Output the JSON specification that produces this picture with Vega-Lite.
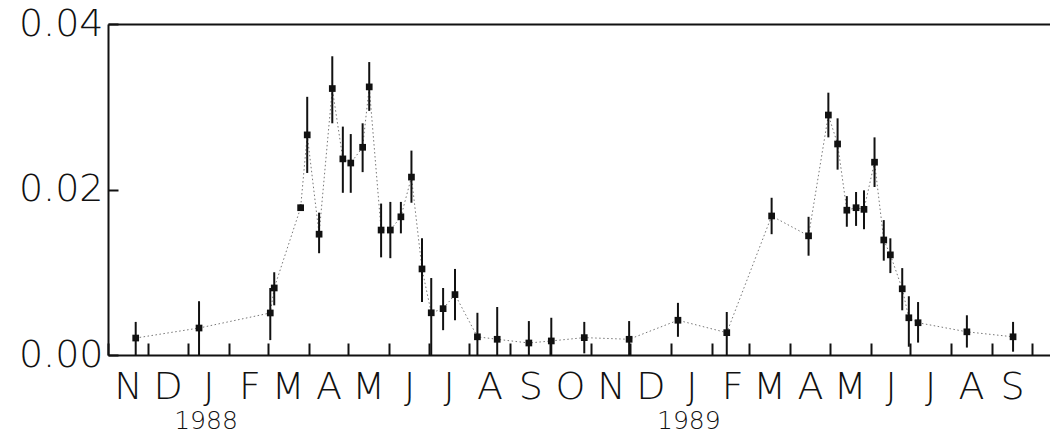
{
  "$schema": "https://vega.github.io/schema/vega-lite/v6.json",
  "width": 942,
  "height": 331,
  "autosize": {"type": "none"},
  "padding": {"left": 108, "top": 24, "right": 0, "bottom": 81},
  "background": "white",
  "config": {"view": {"stroke": null}, "font": "DejaVu Sans"},
  "data": {
    "values": [
      {"date": "1987-11-22", "v": 0.00205, "lo": 0.0, "hi": 0.0040},
      {"date": "1988-01-09", "v": 0.00326, "lo": 0.0, "hi": 0.0065},
      {"date": "1988-03-03", "v": 0.00508, "lo": 0.0018, "hi": 0.0081},
      {"date": "1988-03-06", "v": 0.0081, "lo": 0.0060, "hi": 0.0100},
      {"date": "1988-03-26", "v": 0.0178, "lo": 0.0174, "hi": 0.0182},
      {"date": "1988-03-31", "v": 0.0266, "lo": 0.0220, "hi": 0.0312},
      {"date": "1988-04-09", "v": 0.0146, "lo": 0.0123, "hi": 0.0172},
      {"date": "1988-04-19", "v": 0.0322, "lo": 0.0280, "hi": 0.0361},
      {"date": "1988-04-27", "v": 0.0237, "lo": 0.0196, "hi": 0.0276},
      {"date": "1988-05-03", "v": 0.0232, "lo": 0.0196, "hi": 0.0267},
      {"date": "1988-05-12", "v": 0.0251, "lo": 0.0221, "hi": 0.0280},
      {"date": "1988-05-17", "v": 0.0324, "lo": 0.0295, "hi": 0.0354},
      {"date": "1988-05-26", "v": 0.0151, "lo": 0.0118, "hi": 0.0183},
      {"date": "1988-06-02", "v": 0.0151, "lo": 0.0117, "hi": 0.0185},
      {"date": "1988-06-10", "v": 0.0167, "lo": 0.0147, "hi": 0.0185},
      {"date": "1988-06-18", "v": 0.0215, "lo": 0.0184, "hi": 0.0247},
      {"date": "1988-06-26", "v": 0.0104, "lo": 0.0064, "hi": 0.0141},
      {"date": "1988-07-03", "v": 0.0051, "lo": 0.0, "hi": 0.0093},
      {"date": "1988-07-12", "v": 0.0056, "lo": 0.0030, "hi": 0.0081},
      {"date": "1988-07-21", "v": 0.0073, "lo": 0.0042, "hi": 0.0104},
      {"date": "1988-08-07", "v": 0.0022, "lo": 0.0, "hi": 0.0051},
      {"date": "1988-08-22", "v": 0.0019, "lo": 0.0, "hi": 0.0058},
      {"date": "1988-09-15", "v": 0.00145, "lo": 0.0, "hi": 0.0041},
      {"date": "1988-10-02", "v": 0.0017, "lo": 0.0, "hi": 0.0045},
      {"date": "1988-10-27", "v": 0.0021, "lo": 0.0002, "hi": 0.0040},
      {"date": "1988-11-30", "v": 0.0019, "lo": 0.0, "hi": 0.0041},
      {"date": "1989-01-06", "v": 0.0042, "lo": 0.0022, "hi": 0.0063},
      {"date": "1989-02-12", "v": 0.0027, "lo": 0.0, "hi": 0.0052},
      {"date": "1989-03-18", "v": 0.0168, "lo": 0.0146, "hi": 0.0190},
      {"date": "1989-04-15", "v": 0.0144, "lo": 0.0120, "hi": 0.0167},
      {"date": "1989-04-30", "v": 0.0290, "lo": 0.0263, "hi": 0.0317},
      {"date": "1989-05-07", "v": 0.0255, "lo": 0.0224, "hi": 0.0286},
      {"date": "1989-05-14", "v": 0.0175, "lo": 0.0155, "hi": 0.0192},
      {"date": "1989-05-21", "v": 0.0178, "lo": 0.0156, "hi": 0.0197},
      {"date": "1989-05-27", "v": 0.0176, "lo": 0.0152, "hi": 0.0199},
      {"date": "1989-06-04", "v": 0.0233, "lo": 0.0203, "hi": 0.0263},
      {"date": "1989-06-11", "v": 0.0139, "lo": 0.0114, "hi": 0.0163},
      {"date": "1989-06-16", "v": 0.0121, "lo": 0.0099, "hi": 0.0141},
      {"date": "1989-06-25", "v": 0.0080, "lo": 0.0054, "hi": 0.0105},
      {"date": "1989-06-30", "v": 0.0045, "lo": 0.0010, "hi": 0.0071},
      {"date": "1989-07-07", "v": 0.0039, "lo": 0.0015, "hi": 0.0064},
      {"date": "1989-08-13", "v": 0.0028, "lo": 0.0009, "hi": 0.0048},
      {"date": "1989-09-17", "v": 0.0022, "lo": 0.0004, "hi": 0.0040}
    ]
  },
  "layer": [
    {
      "mark": {"type": "line", "strokeDash": [1.5, 2.5], "color": "#777777", "strokeWidth": 1},
      "encoding": {
        "x": {
          "field": "date", "type": "temporal",
          "scale": {"type": "utc", "domain": [{"year": 1987, "month": 11, "date": 1, "utc": true}, {"year": 1989, "month": 10, "date": 15, "utc": true}]},
          "axis": {
            "orient": "bottom", "title": null, "grid": false, "domain": false, "ticks": false,
            "values": [{"year": 1988, "month": 1, "date": 1, "utc": true}, {"year": 1989, "month": 1, "date": 1, "utc": true}],
            "labelExpr": "utcFormat(datum.value, '%Y')",
            "labelOffset": 17, "labelFontSize": 25, "labelFont": "DejaVu Sans", "labelFontWeight": 200,
            "labelColor": "#111111", "labelPadding": 53, "labelFlush": false, "labelOverlap": false
          }
        },
        "y": {
          "field": "v", "type": "quantitative",
          "scale": {"domain": [0, 0.04], "nice": false},
          "axis": {
            "orient": "left", "title": null, "grid": false, "values": [0, 0.02, 0.04], "format": ".2f",
            "tickSize": -10, "tickWidth": 2, "tickColor": "#111111", "domainWidth": 2, "domainColor": "#111111",
            "labelFontSize": 38, "labelFont": "DejaVu Sans", "labelFontWeight": 200, "labelColor": "#111111",
            "labelPadding": 15, "labelFlush": false
          }
        }
      }
    },
    {
      "mark": {"type": "rule", "strokeWidth": 2, "color": "#111111"},
      "encoding": {
        "x": {
          "field": "date", "type": "temporal",
          "axis": {
            "orient": "bottom", "title": null, "grid": false,
            "tickCount": {"interval": "month", "step": 1},
            "tickSize": -12, "tickWidth": 2, "tickColor": "#111111",
            "domainWidth": 2, "domainColor": "#111111",
            "labelExpr": "datum.value >= utc(1989, 9, 1) ? '' : substring(utcFormat(datum.value, '%b'), 0, 1)",
            "labelOffset": 20, "labelFontSize": 38, "labelFont": "DejaVu Sans", "labelFontWeight": 200,
            "labelColor": "#111111", "labelPadding": 25, "labelFlush": false, "labelOverlap": false, "labelBound": false
          }
        },
        "y": {"field": "lo", "type": "quantitative"},
        "y2": {"field": "hi"}
      }
    },
    {
      "mark": {"type": "point", "shape": "square", "filled": true, "size": 45, "color": "#111111", "opacity": 1},
      "encoding": {
        "x": {
          "field": "date", "type": "temporal",
          "axis": {
            "orient": "top", "title": null, "grid": false, "ticks": false, "labels": false,
            "domainWidth": 2, "domainColor": "#111111"
          }
        },
        "y": {"field": "v", "type": "quantitative"}
      }
    }
  ],
  "resolve": {"axis": {"x": "independent"}}
}
